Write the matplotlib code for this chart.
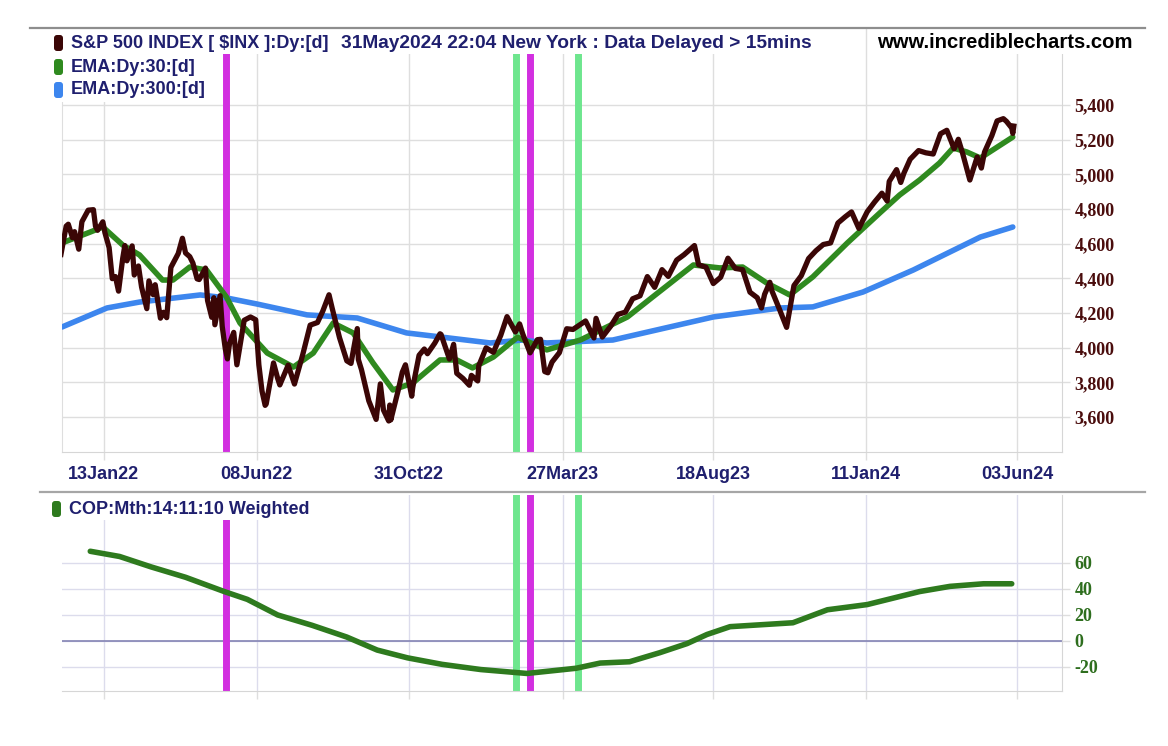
#!/usr/bin/env python3

import matplotlib
matplotlib.use("Agg")
import pandas as pd
from matplotlib import pyplot as plt
from matplotlib.lines import Line2D
from matplotlib.patches import FancyBboxPatch, Rectangle
from matplotlib.transforms import IdentityTransform

# S&P 500 closes
sp_dates = [
    "2021-12-03", "2021-12-08", "2021-12-10", "2021-12-14", "2021-12-16", "2021-12-20",
    "2021-12-23", "2021-12-29", "2022-01-03", "2022-01-05", "2022-01-07", "2022-01-12",
    "2022-01-14", "2022-01-18", "2022-01-21", "2022-01-24", "2022-01-27", "2022-01-31",
    "2022-02-02", "2022-02-04", "2022-02-09", "2022-02-11", "2022-02-15", "2022-02-18",
    "2022-02-23", "2022-02-25", "2022-03-01", "2022-03-03", "2022-03-08", "2022-03-11",
    "2022-03-14", "2022-03-18", "2022-03-25", "2022-03-29", "2022-04-01", "2022-04-05",
    "2022-04-08", "2022-04-12", "2022-04-14", "2022-04-20", "2022-04-22", "2022-04-26",
    "2022-04-28", "2022-04-29", "2022-05-04", "2022-05-06", "2022-05-09", "2022-05-11",
    "2022-05-13", "2022-05-17", "2022-05-20", "2022-05-27", "2022-06-02", "2022-06-07",
    "2022-06-10", "2022-06-13", "2022-06-16", "2022-06-17", "2022-06-24", "2022-06-28",
    "2022-06-30", "2022-07-08", "2022-07-14", "2022-07-22", "2022-07-29", "2022-08-05",
    "2022-08-10", "2022-08-16", "2022-08-19", "2022-08-26", "2022-09-02", "2022-09-06",
    "2022-09-12", "2022-09-13", "2022-09-16", "2022-09-23", "2022-09-30", "2022-10-04",
    "2022-10-07", "2022-10-12", "2022-10-13", "2022-10-14", "2022-10-21", "2022-10-25",
    "2022-10-28", "2022-11-03", "2022-11-04", "2022-11-10", "2022-11-15", "2022-11-18",
    "2022-11-25", "2022-11-30", "2022-12-01", "2022-12-09", "2022-12-13", "2022-12-16",
    "2022-12-22", "2022-12-28", "2022-12-30", "2023-01-05", "2023-01-06", "2023-01-13",
    "2023-01-20", "2023-01-27", "2023-02-02", "2023-02-10", "2023-02-14", "2023-02-17",
    "2023-02-24", "2023-03-03", "2023-03-06", "2023-03-10", "2023-03-13", "2023-03-17",
    "2023-03-24", "2023-03-31", "2023-04-06", "2023-04-14", "2023-04-18", "2023-04-26",
    "2023-04-28", "2023-05-04", "2023-05-12", "2023-05-19", "2023-05-26", "2023-06-02",
    "2023-06-09", "2023-06-16", "2023-06-23", "2023-06-30", "2023-07-06", "2023-07-14",
    "2023-07-21", "2023-07-31", "2023-08-04", "2023-08-11", "2023-08-18", "2023-08-25",
    "2023-09-01", "2023-09-08", "2023-09-15", "2023-09-22", "2023-09-29", "2023-10-03",
    "2023-10-06", "2023-10-11", "2023-10-13", "2023-10-20", "2023-10-27", "2023-11-03",
    "2023-11-10", "2023-11-17", "2023-11-24", "2023-12-01", "2023-12-08", "2023-12-15",
    "2023-12-22", "2023-12-28", "2024-01-04", "2024-01-12", "2024-01-19", "2024-01-26",
    "2024-01-31", "2024-02-02", "2024-02-09", "2024-02-13", "2024-02-16", "2024-02-22",
    "2024-03-01", "2024-03-08", "2024-03-15", "2024-03-22", "2024-03-28", "2024-04-04",
    "2024-04-08", "2024-04-12", "2024-04-19", "2024-04-26", "2024-04-30", "2024-05-03",
    "2024-05-10", "2024-05-15", "2024-05-21", "2024-05-24", "2024-05-29", "2024-05-30",
    "2024-05-31",
]
sp_close = [
    4538, 4701, 4712, 4634, 4669, 4568,
    4726, 4793, 4796, 4700, 4677, 4726,
    4663, 4577, 4398, 4410, 4326, 4516,
    4589, 4501, 4587, 4419, 4471, 4349,
    4225, 4385, 4306, 4363, 4170, 4204,
    4173, 4463, 4543, 4631, 4546, 4525,
    4488, 4397, 4393, 4459, 4272, 4175,
    4288, 4132, 4300, 4123, 3991, 3935,
    4024, 4088, 3901, 4158, 4177, 4161,
    3901, 3750, 3667, 3675, 3912, 3822,
    3785, 3899, 3790, 3962, 4130, 4145,
    4210, 4305, 4228, 4058, 3924, 3909,
    4110, 3932, 3873, 3693, 3586, 3791,
    3640, 3577, 3669, 3583, 3752, 3859,
    3901, 3720, 3771, 3956, 3992, 3965,
    4026, 4080, 4076, 3934, 4019, 3852,
    3822, 3783, 3840, 3808, 3895, 3999,
    3973, 4071, 4179, 4090, 4137, 4079,
    3970, 4046, 4048, 3862, 3855, 3917,
    3971, 4109, 4105, 4138, 4154, 4056,
    4169, 4061, 4124, 4192, 4205, 4282,
    4299, 4410, 4348, 4450, 4411, 4505,
    4536, 4589, 4478, 4464, 4370, 4406,
    4516, 4457, 4450, 4320, 4288, 4229,
    4308, 4377, 4327, 4224, 4117, 4358,
    4415, 4514, 4559, 4595, 4604, 4719,
    4755, 4783, 4688, 4784, 4840, 4891,
    4846, 4959, 5027, 4953, 5006, 5087,
    5137, 5124, 5117, 5234, 5254, 5147,
    5202, 5123, 4967, 5100, 5036, 5128,
    5223, 5308, 5321, 5305, 5267, 5236,
    5278,
]

ema30_dates = [
    "2021-12-04", "2021-12-31", "2022-01-12", "2022-01-31", "2022-02-16", "2022-03-10",
    "2022-03-20", "2022-04-05", "2022-04-21", "2022-05-10", "2022-05-23", "2022-06-18",
    "2022-07-13", "2022-08-01", "2022-08-20", "2022-09-08", "2022-09-27", "2022-10-16",
    "2022-11-04", "2022-11-30", "2022-12-16", "2022-12-31", "2023-01-20", "2023-02-12",
    "2023-03-12", "2023-04-13", "2023-05-28", "2023-06-21", "2023-07-30", "2023-08-24",
    "2023-09-15", "2023-10-08", "2023-10-30", "2023-11-21", "2023-12-24", "2024-01-24",
    "2024-02-12", "2024-03-02", "2024-03-21", "2024-04-03", "2024-04-16", "2024-04-29",
    "2024-05-30",
]
ema30_vals = [
    4604, 4667, 4696, 4592, 4535, 4390,
    4390, 4465, 4448, 4292, 4142, 3969,
    3888, 3969, 4142, 4085, 3912, 3756,
    3796, 3929, 3929, 3883, 3946, 4060,
    3987, 4044, 4177, 4292, 4477, 4460,
    4465, 4373, 4304, 4408, 4604, 4777,
    4881, 4967, 5065, 5152, 5129, 5094,
    5215,
]

ema300_dates = [
    "2021-12-04", "2022-01-16", "2022-02-16", "2022-04-15", "2022-05-10", "2022-06-08",
    "2022-07-26", "2022-09-12", "2022-10-29", "2022-11-30", "2023-01-17", "2023-02-17",
    "2023-03-12", "2023-05-14", "2023-08-18", "2023-10-21", "2023-11-21", "2024-01-08",
    "2024-02-25", "2024-04-29", "2024-05-30",
]
ema300_vals = [
    4119, 4229, 4263, 4304, 4287, 4252,
    4189, 4171, 4085, 4062, 4027, 4044,
    4027, 4044, 4177, 4229, 4235, 4321,
    4448, 4638, 4696,
]

cop_dates = [
    "2021-12-31", "2022-01-28", "2022-02-27", "2022-04-01", "2022-05-08", "2022-05-30",
    "2022-06-28", "2022-07-31", "2022-09-02", "2022-10-01", "2022-10-30", "2022-12-02",
    "2023-01-08", "2023-02-21", "2023-04-09", "2023-05-02", "2023-05-30", "2023-06-28",
    "2023-07-24", "2023-08-12", "2023-09-03", "2023-11-02", "2023-12-05", "2024-01-12",
    "2024-03-02", "2024-03-31", "2024-05-02", "2024-05-29",
]
cop_vals = [
    69, 65, 57, 49, 38, 32,
    20, 12, 3, -7, -13, -18,
    -22, -25, -21, -17, -16, -9,
    -2, 5, 11, 14, 24, 28,
    38, 42, 44, 44,
]

sell_signals = ["2022-05-10", "2023-02-24"]
buy_signals = ["2023-02-11", "2023-04-11"]

xtick_dates = ["2022-01-13", "2022-06-08", "2022-10-31", "2023-03-27",
               "2023-08-18", "2024-01-11", "2024-06-03"]
xtick_labels = ["13Jan22", "08Jun22", "31Oct22", "27Mar23", "18Aug23", "11Jan24", "03Jun24"]
price_ticks = [3600, 3800, 4000, 4200, 4400, 4600, 4800, 5000, 5200, 5400]
cop_ticks = [-20, 0, 20, 40, 60]

NAVY = "#1f1f6e"
MAROON = "#3b0606"
GREEN = "#2f8a1f"
BLUE = "#3d86ee"
MAGENTA = "#d22fe0"
LGREEN = "#6ee68e"
GRID = "#dedede"

W, H = 1168, 746
fig = plt.figure(figsize=(W / 100, H / 100), dpi=100, facecolor="white")


def fx(px):
    return px / W


def fy(py):
    return 1 - py / H


ax = fig.add_axes([fx(62), fy(452), fx(1062) - fx(62), fy(28) - fy(452)])
ax2 = fig.add_axes([fx(62), fy(691), fx(1062) - fx(62), fy(495) - fy(691)], sharex=ax)

d = pd.to_datetime
ax.plot(d(ema300_dates), ema300_vals, color=BLUE, lw=4, zorder=3, solid_capstyle="round")
ax.plot(d(ema30_dates), ema30_vals, color=GREEN, lw=4, zorder=4, solid_capstyle="round")
ax.plot(d(sp_dates), sp_close, color=MAROON, lw=3.8, zorder=5, solid_joinstyle="round")
ax2.plot(d(cop_dates), cop_vals, color="#2e7a1e", lw=4, zorder=4, solid_capstyle="round")

for a in (ax, ax2):
    for s in sell_signals:
        a.axvline(d(s), color=MAGENTA, lw=5, zorder=2)
    for s in buy_signals:
        a.axvline(d(s), color=LGREEN, lw=5, zorder=2)

x0 = d("2022-01-13")
ax.set_xlim(x0 - pd.Timedelta(days=40), x0 + pd.Timedelta(days=915))
ax.set_ylim(3398, 5844)
ax2.set_ylim(-38.5, 112.3)

ax.set_xticks(d(xtick_dates))
ax.set_xticklabels(xtick_labels)
ax.set_yticks(price_ticks)
ax.set_yticklabels([f"{v:,}" for v in price_ticks])
ax2.set_yticks(cop_ticks)
ax2.set_yticklabels([str(v) for v in cop_ticks])

for a in (ax, ax2):
    a.yaxis.tick_right()
    a.grid(True, color=GRID, lw=1, zorder=0)
    a.set_axisbelow(True)
    a.tick_params(axis="both", length=6, color=GRID, width=1)
    a.tick_params(axis="y", pad=3)
    for lab in a.get_yticklabels():
        lab.set_fontfamily("Liberation Serif")
        lab.set_fontweight("bold")
        lab.set_fontsize(13)
    a.spines["top"].set_visible(False)
    a.spines["left"].set_color(GRID)
    a.spines["right"].set_color("#d6d6d6")
    a.spines["bottom"].set_color("#d6d6d6")

for lab in ax.get_yticklabels():
    lab.set_color("#4a0d0d")
for lab in ax2.get_yticklabels():
    lab.set_color("#2e6e1e")
ax2.spines["left"].set_visible(False)
ax2.grid(True, color="#dcdcec", lw=1)
ax2.axhline(0, color="#8484b4", lw=1.2, zorder=1)

ax.tick_params(axis="x", pad=4, labelsize=13, labelcolor=NAVY)
for lab in ax.get_xticklabels():
    lab.set_fontfamily("Liberation Sans")
    lab.set_fontweight("bold")
ax2.tick_params(axis="x", labelbottom=False)

# legend blocks (white backing hides the grid like the original)
ident = IdentityTransform()


def white_box(x1, y1, x2, y2):
    fig.add_artist(Rectangle((x1, H - y2), x2 - x1, y2 - y1, transform=ident,
                             facecolor="white", edgecolor="none", zorder=10))


def label(px, py, text, size=13, color=NAVY, ha="left"):
    fig.text(fx(px), fy(py), text, fontsize=size, fontweight="bold",
             family="Liberation Sans", color=color, va="center", ha=ha, zorder=12)


def key(px, py, color, text, size=13):
    fig.add_artist(FancyBboxPatch((px, H - py - 8), 9, 16, transform=ident,
                                  boxstyle="round,pad=0,rounding_size=3",
                                  facecolor=color, edgecolor="none", zorder=11))
    label(px + 17, py, text, size)


white_box(44, 20, 816, 54)
white_box(44, 54, 214, 102)
white_box(868, 20, 1140, 54)
white_box(44, 493, 330, 520)

# frame lines across the figure
fig.add_artist(Line2D([fx(30), fx(1145)], [fy(28), fy(28)], color="#8e8e8e", lw=1.6, zorder=13))
fig.add_artist(Line2D([fx(40), fx(1145)], [fy(492), fy(492)], color="#a6a6a6", lw=1.6, zorder=13))

key(54, 43, MAROON, "S&P 500 INDEX [ $INX ]:Dy:[d]")
label(341, 43, "31May2024 22:04 New York : Data Delayed > 15mins", size=13.8)
key(54, 67, GREEN, "EMA:Dy:30:[d]")
key(54, 90, BLUE, "EMA:Dy:300:[d]")
key(52, 509, "#2e7a1e", "COP:Mth:14:11:10 Weighted")
label(1133, 42, "www.incrediblecharts.com", size=14.6, color="black", ha="right")

fig.savefig("out.png", dpi=100, facecolor="white")
